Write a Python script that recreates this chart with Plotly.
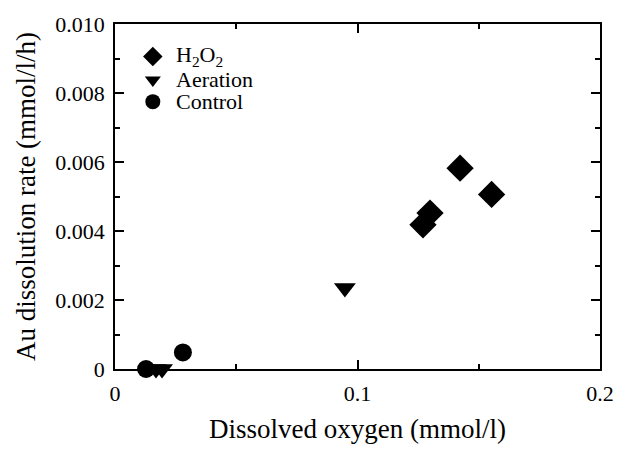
import plotly.graph_objects as go

# Dissolved oxygen (mmol/l) vs Au dissolution rate (mmol/l/h)
h2o2_do = [0.1423, 0.1553, 0.1299, 0.1270]
h2o2_rate = [0.00582, 0.00506, 0.00452, 0.00418]

aeration_do = [0.0948, 0.0169, 0.0194]
aeration_rate = [0.00235, 0.0, 0.0]

control_do = [0.0128, 0.0280]
control_rate = [0.0, 0.00048]

series_names = ["H<sub>2</sub>O<sub>2</sub>", "Aeration", "Control"]
series_symbols = ["diamond", "triangle-down", "circle"]
series_sizes = [21, 19, 18]
legend_sizes = [15, 14, 15]

y_tickvals = [0, 0.002, 0.004, 0.006, 0.008, 0.010]
y_ticktext = ["0", "0.002", "0.004", "0.006", "0.008", "0.010"]
x_tickvals = [0, 0.1, 0.2]
x_ticktext = ["0", "0.1", "0.2"]

FONT = "Liberation Serif"

fig = go.Figure()
data = [(h2o2_do, h2o2_rate), (aeration_do, aeration_rate), (control_do, control_rate)]
for (xs, ys), name, sym, sz in zip(data, series_names, series_symbols, series_sizes):
    fig.add_trace(go.Scatter(
        x=xs, y=ys, mode="markers", name=name, showlegend=False,
        marker=dict(symbol=sym, size=sz, color="black", line=dict(width=0)),
        cliponaxis=False,
    ))

# Legend keys drawn on a hidden unit-range overlay axis
legend_x = 0.078
legend_rows = [0.906, 0.838, 0.775]
for name, sym, sz, yy in zip(series_names, series_symbols, legend_sizes, legend_rows):
    fig.add_trace(go.Scatter(
        x=[legend_x], y=[yy], mode="markers", showlegend=False, hoverinfo="skip",
        marker=dict(symbol=sym, size=sz, color="black", line=dict(width=0)),
        xaxis="x2", yaxis="y2",
    ))
    fig.add_annotation(
        x=legend_x + 0.045, y=yy, xref="x2", yref="y2", text=name,
        showarrow=False, xanchor="left", yanchor="middle", borderpad=0,
        font=dict(family=FONT, size=22, color="black"),
    )

axis_common = dict(
    showgrid=False, zeroline=False, showline=True, linecolor="black", linewidth=1.6,
    mirror="ticks", ticks="inside", ticklen=9, tickwidth=1.6, tickcolor="black",
    tickfont=dict(family=FONT, size=22, color="black"),
)

fig.update_layout(
    width=627, height=451,
    margin=dict(l=115, r=27, t=20, b=79),
    paper_bgcolor="white", plot_bgcolor="white",
    font=dict(family=FONT, size=22, color="black"),
    xaxis=dict(
        range=[0, 0.2], tickmode="array", tickvals=x_tickvals, ticktext=x_ticktext,
        minor=dict(dtick=0.05, ticks="inside", ticklen=5, tickwidth=1.6, tickcolor="black"),
        title=dict(text="Dissolved oxygen (mmol/l)", font=dict(family=FONT, size=27, color="black"),
                   standoff=14),
        ticklabelstandoff=4,
        **axis_common,
    ),
    yaxis=dict(
        range=[0, 0.010], tickmode="array", tickvals=y_tickvals, ticktext=y_ticktext,
        minor=dict(dtick=0.001, ticks="inside", ticklen=5, tickwidth=1.6, tickcolor="black"),
        title=dict(text="Au dissolution rate (mmol/l/h)", font=dict(family=FONT, size=27, color="black"),
                   standoff=12),
        ticklabelstandoff=4,
        **axis_common,
    ),
    xaxis2=dict(range=[0, 1], overlaying="x", visible=False, fixedrange=True),
    yaxis2=dict(range=[0, 1], overlaying="y", visible=False, fixedrange=True),
    showlegend=False,
)

fig.write_html("out.html")
